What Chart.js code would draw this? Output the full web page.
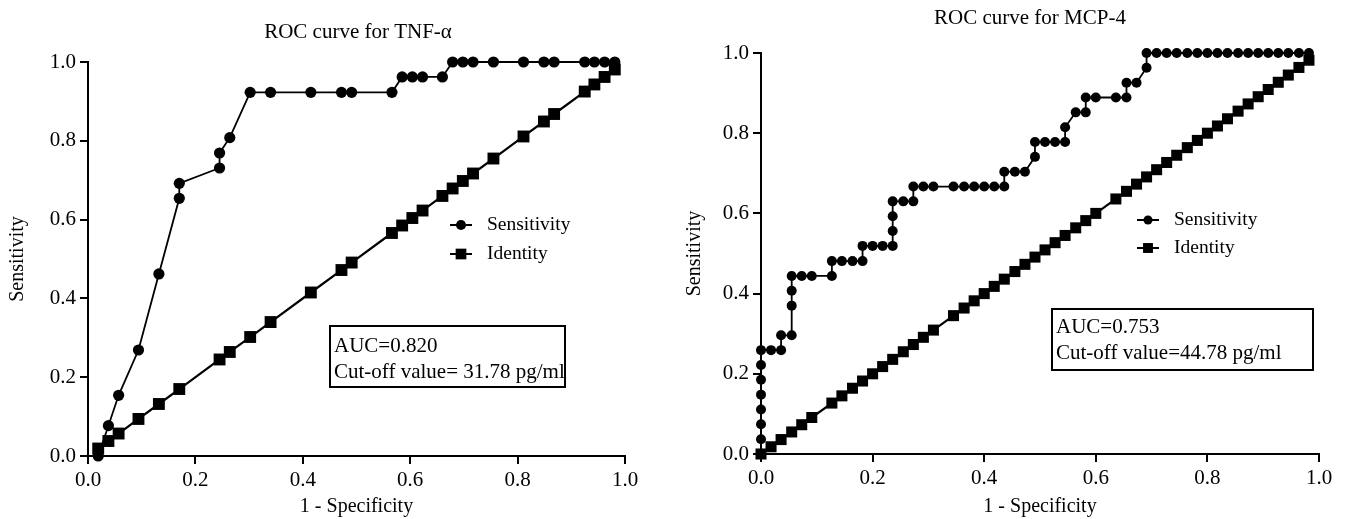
<!DOCTYPE html>
<html>
<head>
<meta charset="utf-8">
<script src="https://cdn.jsdelivr.net/npm/chart.js@4.4.0/dist/chart.umd.min.js"></script>
<style>
  html, body { margin: 0; padding: 0; background: #fff; }
  .pane { position: absolute; top: 0; height: 519px; }
</style>
</head>
<body>
<div class="pane" style="left:0;width:672px"><canvas id="tnf"></canvas></div>
<div class="pane" style="left:672px;width:673px"><canvas id="mcp"></canvas></div>
<script>
// values
const tickVals = [0, 0.2, 0.4, 0.6, 0.8, 1.0];
const tickLabels = ['0.0', '0.2', '0.4', '0.6', '0.8', '1.0'];

// TNF-alpha
const tnfFpr = [0.019, 0.038, 0.057, 0.094, 0.132, 0.170, 0.170, 0.245, 0.245, 0.264, 0.302, 0.340, 0.415, 0.472, 0.491,
  0.566, 0.585, 0.604, 0.623, 0.660, 0.679, 0.698, 0.717, 0.755, 0.811, 0.849, 0.868, 0.925, 0.943, 0.962, 0.981];
const tnfSens = [0.000, 0.077, 0.154, 0.269, 0.462, 0.654, 0.692, 0.731, 0.769, 0.808, 0.923, 0.923, 0.923, 0.923, 0.923,
  0.923, 0.962, 0.962, 0.962, 0.962, 1.000, 1.000, 1.000, 1.000, 1.000, 1.000, 1.000, 1.000, 1.000, 1.000, 1.000];
const tnfIdX = [0.019, 0.038, 0.057, 0.094, 0.132, 0.170, 0.245, 0.264, 0.302, 0.340, 0.415, 0.472, 0.491,
  0.566, 0.585, 0.604, 0.623, 0.660, 0.679, 0.698, 0.717, 0.755, 0.811, 0.849, 0.868, 0.925, 0.943, 0.962, 0.981];
const tnfIdY = [0.019, 0.038, 0.057, 0.094, 0.132, 0.170, 0.245, 0.264, 0.302, 0.340, 0.415, 0.472, 0.491,
  0.566, 0.585, 0.604, 0.623, 0.660, 0.679, 0.698, 0.717, 0.755, 0.811, 0.849, 0.868, 0.925, 0.943, 0.962, 0.981];

// MCP-4
const mcpFpr = [0, 0, 0, 0, 0, 0, 0, 0,
  0.018, 0.036, 0.036, 0.055, 0.055, 0.055, 0.055,
  0.073, 0.091, 0.127, 0.127, 0.145, 0.164, 0.182, 0.182, 0.200, 0.218, 0.236, 0.236, 0.236, 0.236,
  0.255, 0.273, 0.273, 0.291, 0.309, 0.345, 0.364, 0.382, 0.400, 0.418, 0.436, 0.436,
  0.455, 0.473, 0.491, 0.491, 0.509, 0.527, 0.545, 0.545, 0.564, 0.582, 0.582, 0.600, 0.636, 0.655, 0.655, 0.673, 0.691, 0.691,
  0.709, 0.727, 0.745, 0.764, 0.782, 0.800, 0.818, 0.836, 0.855, 0.873, 0.891, 0.909, 0.927, 0.945, 0.964, 0.982];
const mcpSens = [0, 0.037, 0.074, 0.111, 0.148, 0.185, 0.222, 0.259,
  0.259, 0.259, 0.296, 0.296, 0.370, 0.407, 0.444,
  0.444, 0.444, 0.444, 0.481, 0.481, 0.481, 0.481, 0.519, 0.519, 0.519, 0.519, 0.556, 0.593, 0.630,
  0.630, 0.630, 0.667, 0.667, 0.667, 0.667, 0.667, 0.667, 0.667, 0.667, 0.667, 0.704,
  0.704, 0.704, 0.741, 0.778, 0.778, 0.778, 0.778, 0.815, 0.852, 0.852, 0.889, 0.889, 0.889, 0.889, 0.926, 0.926, 0.963, 1.000,
  1, 1, 1, 1, 1, 1, 1, 1, 1, 1, 1, 1, 1, 1, 1, 1];
const mcpIdX = [0, 0.018, 0.036, 0.055, 0.073, 0.091, 0.127, 0.145, 0.164, 0.182, 0.200, 0.218, 0.236, 0.255, 0.273, 0.291, 0.309,
  0.345, 0.364, 0.382, 0.400, 0.418, 0.436, 0.455, 0.473, 0.491, 0.509, 0.527, 0.545, 0.564, 0.582, 0.600,
  0.636, 0.655, 0.673, 0.691, 0.709, 0.727, 0.745, 0.764, 0.782, 0.800, 0.818, 0.836, 0.855, 0.873, 0.891, 0.909, 0.927, 0.945, 0.964, 0.982];
const mcpIdY = [0, 0.018, 0.036, 0.055, 0.073, 0.091, 0.127, 0.145, 0.164, 0.182, 0.200, 0.218, 0.236, 0.255, 0.273, 0.291, 0.309,
  0.345, 0.364, 0.382, 0.400, 0.418, 0.436, 0.455, 0.473, 0.491, 0.509, 0.527, 0.545, 0.564, 0.582, 0.600,
  0.636, 0.655, 0.673, 0.691, 0.709, 0.727, 0.745, 0.764, 0.782, 0.800, 0.818, 0.836, 0.855, 0.873, 0.891, 0.909, 0.927, 0.945, 0.964, 0.982];

const SERIF = '"Liberation Serif", "Times New Roman", serif';

const pts = (xs, ys) => xs.map((x, i) => ({x: x, y: ys[i]}));

// title, legend and AUC box drawn on top
const extras = {
  id: 'extras',
  afterDraw(chart, args, o) {
    const ctx = chart.ctx;
    ctx.save();
    ctx.fillStyle = '#000';
    ctx.strokeStyle = '#000';
    ctx.font = '21px ' + SERIF;
    ctx.textAlign = 'center';
    ctx.textBaseline = 'middle';
    ctx.fillText(o.title, o.titleX, o.titleY);

    ctx.textAlign = 'left';
    chart.data.datasets.forEach((ds, i) => {
      const y = o.legY[i];
      ctx.lineWidth = 2;
      ctx.beginPath();
      ctx.moveTo(o.legX - 11, y);
      ctx.lineTo(o.legX + 11, y);
      ctx.stroke();
      ctx.beginPath();
      if (ds.pointStyle === 'rect') {
        const h = ds.pointRadius * Math.SQRT1_2 * 0.9;
        ctx.rect(o.legX - h, y - h, 2 * h, 2 * h);
      } else {
        ctx.arc(o.legX, y, ds.pointRadius * 0.9, 0, Math.PI * 2);
      }
      ctx.fill();
      ctx.font = '19.5px ' + SERIF;
      ctx.fillText(ds.label, o.legX + 26, y);
    });

    ctx.lineWidth = 2;
    ctx.strokeRect(o.box[0], o.box[1], o.box[2], o.box[3]);
    ctx.font = '21px ' + SERIF;
    ctx.textBaseline = 'alphabetic';
    o.boxText.forEach((t, i) => ctx.fillText(t, o.box[0] + 4, o.boxY[i]));
    ctx.restore();
  }
};

function axis(extra) {
  return Object.assign({
    type: 'linear',
    min: 0,
    max: 1,
    afterBuildTicks: s => { s.ticks = tickVals.map(v => ({value: v})); },
    border: {display: true, color: '#000', width: 2},
    grid: {display: true, drawOnChartArea: false, drawTicks: true, tickLength: 8, color: '#000', lineWidth: 2},
    ticks: {color: '#000', font: {family: SERIF, size: 21}, padding: 4, maxRotation: 0,
      callback: (v, i) => tickLabels[i]}
  }, extra);
}

function rocChart(id, p) {
  return new Chart(document.getElementById(id), {
    type: 'scatter',
    data: {
      datasets: [
        {
          label: 'Sensitivity',
          data: pts(p.fpr, p.sens),
          showLine: true,
          borderColor: '#000',
          backgroundColor: '#000',
          borderWidth: 1.8,
          pointStyle: 'circle',
          pointRadius: p.dot,
          pointBorderWidth: 0,
          clip: false
        },
        {
          label: 'Identity',
          data: pts(p.idX, p.idY),
          showLine: true,
          borderColor: '#000',
          backgroundColor: '#000',
          borderWidth: 2.2,
          pointStyle: 'rect',
          pointRadius: p.sq,
          pointBorderWidth: 0,
          clip: false
        }
      ]
    },
    options: {
      responsive: true,
      maintainAspectRatio: false,
      animation: false,
      layout: {padding: {top: p.top, right: p.right, left: 0, bottom: 0}},
      plugins: {
        legend: {display: false},
        tooltip: {enabled: false},
        extras: p.extras
      },
      scales: {
        x: axis({
          afterFit: s => { s.height = p.xH; },
          title: {display: true, text: '1 - Specificity', color: '#000',
            font: {family: SERIF, size: 20}, padding: {top: 0, bottom: 0}}
        }),
        y: axis({
          afterFit: s => { s.width = p.yW; },
          title: {display: true, text: 'Sensitivity', color: '#000',
            font: {family: SERIF, size: 20}, padding: {top: p.yTitlePad, bottom: 0}}
        })
      }
    },
    plugins: [extras]
  });
}

rocChart('tnf', {
  fpr: tnfFpr, sens: tnfSens, idX: tnfIdX, idY: tnfIdY,
  dot: 5.6, sq: 8.4,
  top: 62, right: 47, xH: 63, yW: 88, yTitlePad: 6,
  extras: {
    title: 'ROC curve for TNF-\u03b1', titleX: 358, titleY: 32,
    legX: 461, legY: [225, 254],
    box: [330, 326, 235, 61],
    boxText: ['AUC=0.820', 'Cut-off value= 31.78 pg/ml'],
    boxY: [352, 378]
  }
});

rocChart('mcp', {
  fpr: mcpFpr, sens: mcpSens, idX: mcpIdX, idY: mcpIdY,
  dot: 5, sq: 7.8,
  top: 53, right: 26, xH: 65, yW: 89, yTitlePad: 11,
  extras: {
    title: 'ROC curve for MCP-4', titleX: 358, titleY: 18,
    legX: 476, legY: [220, 248],
    box: [380, 309, 261, 61],
    boxText: ['AUC=0.753', 'Cut-off value=44.78 pg/ml'],
    boxY: [333, 359]
  }
});
</script>
</body>
</html>
